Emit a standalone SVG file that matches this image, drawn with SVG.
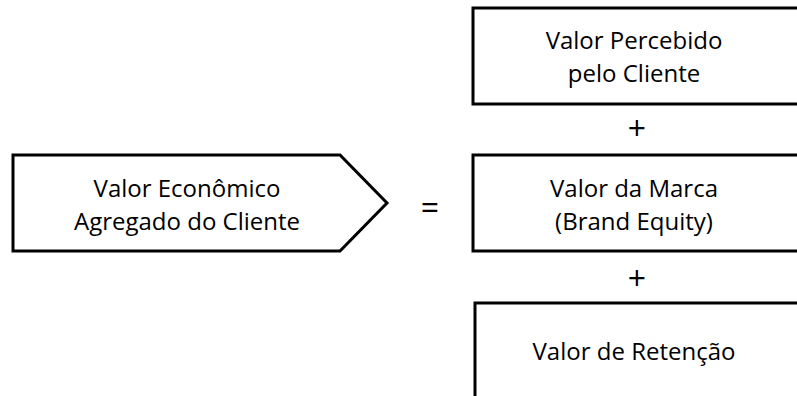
<svg xmlns="http://www.w3.org/2000/svg" width="797" height="396" viewBox="0 0 797 396">
  <style>
    .shape { fill: #ffffff; stroke: #000000; stroke-width: 3; stroke-linejoin: miter; }
    .label { font-family: "Open Sans", "Liberation Sans", sans-serif; font-size: 24px; fill: #000000; text-anchor: middle; }
    .op { font-family: "Open Sans", "Liberation Sans", sans-serif; font-size: 32px; fill: #000000; text-anchor: middle; }
  </style>
  <g id="valor-economico">
    <path class="shape" d="M13,155 L340,155 L387,203 L340,251 L13,251 Z"/>
    <text class="label" x="187" y="197">Valor Econômico</text>
    <text class="label" x="187" y="230">Agregado do Cliente</text>
  </g>
  <g id="valor-percebido">
    <rect class="shape" x="473" y="8" width="340" height="96"/>
    <text class="label" x="634" y="49">Valor Percebido</text>
    <text class="label" x="634" y="82">pelo Cliente</text>
  </g>
  <g id="valor-marca">
    <rect class="shape" x="473" y="155" width="340" height="96"/>
    <text class="label" x="634" y="197">Valor da Marca</text>
    <text class="label" x="634" y="230">(Brand Equity)</text>
  </g>
  <g id="valor-retencao">
    <rect class="shape" x="475" y="303" width="340" height="110"/>
    <text class="label" x="634" y="360">Valor de Retenção</text>
  </g>
  <g id="operators">
    <text class="op" x="430" y="219">=</text>
    <text class="op" x="637" y="140">+</text>
    <text class="op" x="637" y="290">+</text>
  </g>
</svg>
